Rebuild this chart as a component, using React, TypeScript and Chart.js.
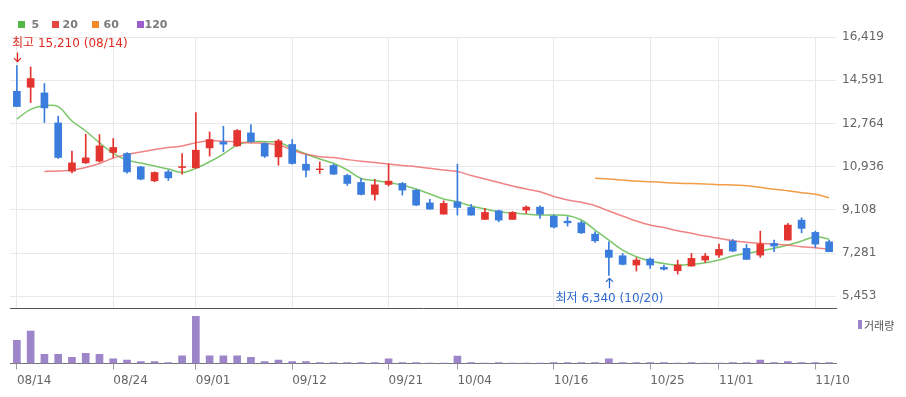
import React, { useEffect, useRef } from 'react';
import { Chart, registerables } from 'chart.js';

Chart.register(...registerables);

// ---------- data ----------
const DATES = [
  '08/14', '08/16', '08/17', '08/18', '08/21', '08/22', '08/23', '08/24', '08/25', '08/28',
  '08/29', '08/30', '08/31', '09/01', '09/04', '09/05', '09/06', '09/07', '09/08', '09/11',
  '09/12', '09/13', '09/14', '09/15', '09/18', '09/19', '09/20', '09/21', '09/22', '09/25',
  '09/26', '09/27', '10/04', '10/05', '10/06', '10/10', '10/11', '10/12', '10/13', '10/16',
  '10/17', '10/18', '10/19', '10/20', '10/23', '10/24', '10/25', '10/26', '10/27', '10/30',
  '10/31', '11/01', '11/02', '11/03', '11/06', '11/07', '11/08', '11/09', '11/10', '11/13',
];

const TICK_DATES = ['08/14', '08/24', '09/01', '09/12', '09/21', '10/04', '10/16', '10/25', '11/01', '11/10'];

const OPEN = [
  14125, 14294, 14054, 12786, 10746, 11097, 11169, 11536, 11494, 10928,
  10336, 10717, 10900, 10886, 11730, 11984, 11815, 12364, 11916, 11350,
  11874, 11042, 10810, 10987, 10564, 10269, 9762, 10184, 10226, 9943,
  9407, 8930, 9449, 9212, 8706, 9069, 8706, 9099, 9225, 8845,
  8633, 8562, 8085, 7409, 7168, 6776, 7029, 6680, 6535, 6733,
  6987, 7197, 7789, 7481, 7197, 7692, 7831, 8676, 8157, 7760,
];
const HIGH = [
  15210, 15152, 14450, 13069, 11591, 12309, 12296, 12127, 11536, 10950,
  10717, 10788, 11494, 13226, 12406, 12647, 12507, 12719, 11942, 12085,
  12085, 11422, 11139, 11042, 10620, 10438, 10395, 11042, 10269, 9960,
  9550, 9492, 11042, 9339, 9170, 9100, 9040, 9280, 9280, 8887,
  8816, 8633, 8182, 7760, 7269, 7084, 7084, 6780, 6987, 7269,
  7269, 7663, 7861, 7650, 8212, 7831, 8537, 8774, 8212, 7831,
];
const LOW = [
  13479, 13648, 12803, 11283, 10674, 11071, 11130, 11325, 10662, 10380,
  10294, 10353, 10620, 10860, 11380, 11562, 11790, 11970, 11325, 10999,
  11040, 10505, 10649, 10600, 10142, 9740, 9521, 10113, 9732, 9290,
  9141, 8930, 8887, 8887, 8706, 8604, 8706, 8959, 8748, 8340,
  8423, 8100, 7734, 6340, 6780, 6522, 6635, 6560, 6395, 6733,
  6890, 7101, 7340, 7016, 7101, 7339, 7831, 8140, 7523, 7339,
];
const CLOSE = [
  13479, 14662, 13420, 11325, 11097, 11308, 11815, 11747, 10717, 10408,
  10691, 10463, 10940, 11633, 12085, 11887, 12465, 12000, 11380, 12026,
  11071, 10788, 10840, 10620, 10226, 9762, 10167, 10324, 9943, 9310,
  9141, 9381, 9212, 8887, 9001, 8676, 9001, 9225, 8930, 8380,
  8560, 8140, 7802, 7101, 6804, 6987, 6776, 6600, 6776, 7058,
  7155, 7438, 7366, 7016, 7663, 7578, 8466, 8325, 7663, 7339,
];

const VOLUME = [
  2300000, 3200000, 900000, 900000, 600000, 1000000, 900000, 470000, 330000, 200000,
  200000, 100000, 770000, 4670000, 770000, 770000, 770000, 600000, 200000, 330000,
  200000, 200000, 100000, 100000, 100000, 100000, 100000, 470000, 100000, 100000,
  40000, 40000, 730000, 100000, 40000, 100000, 40000, 40000, 40000, 100000,
  100000, 100000, 100000, 470000, 100000, 100000, 100000, 100000, 40000, 100000,
  40000, 40000, 100000, 100000, 330000, 100000, 200000, 100000, 100000, 100000,
];

const MA5 = [
  12951, 13361, 13514, 13471, 12867, 12444, 11949, 11501, 11217, 11090,
  10964, 10837, 10689, 10866, 11145, 11471, 11852, 11991, 11991, 11966,
  11712, 11471, 11260, 11078, 10794, 10435, 10350, 10266, 10160, 9991,
  9779, 9568, 9454, 9272, 9145, 9031, 8976, 8934, 8891, 8891,
  8870, 8680, 8257, 7834, 7411, 7128, 6946, 6840, 6777, 6806,
  6874, 6988, 7157, 7272, 7369, 7483, 7623, 7792, 7974, 7876,
];
const MA20 = [
  null, null, 10731, 10752, 10794, 10900, 11069, 11302, 11450, 11556,
  11661, 11746, 11809, 11949, 12034, 12012, 11979, 11936, 11924, 11852,
  11640, 11458, 11357, 11323, 11238, 11162, 11112, 11048, 10985, 10934,
  10866, 10794, 10731, 10562, 10414, 10266, 10118, 9991, 9877, 9674,
  9526, 9428, 9285, 9061, 8849, 8638, 8468, 8363, 8227, 8117,
  8003, 7906, 7805, 7737, 7695, 7665, 7623, 7551, 7508, 7441,
];
const MA60 = [
  null, null, null, null, null, null, null, null, null, null,
  null, null, null, null, null, null, null, null, null, null,
  null, null, null, null, null, null, null, null, null, null,
  null, null, null, null, null, null, null, null, null, null,
  null, null, 10443, 10414, 10372, 10329, 10300, 10266, 10236, 10224,
  10202, 10173, 10160, 10130, 10063, 9978, 9919, 9834, 9767, 9623,
];

const Y_TICKS = [5453, 7281, 9108, 10936, 12764, 14591, 16419];
const Y_MIN = 4960;
const Y_MAX = 16419;
const VOL_MAX = 5300000;

const LEGEND = [
  { label: '5', color: '#52b848', box: 18, text: 31.5 },
  { label: '20', color: '#e8473f', box: 52, text: 62.5 },
  { label: '60', color: '#f28a28', box: 92, text: 103.5 },
  { label: '120', color: '#9a5fcc', box: 137, text: 144.5 },
];

// ---------- styles ----------
const UP = '#e3342f';
const DOWN = '#3b7ddd';
const GRID = '#e9e9e9';
const AXIS_TEXT = '#666666';
const VOL_COLOR = '#9c86c9';
const FONT = "'DejaVu Sans', 'Noto Sans CJK KR', sans-serif";
const TICK_SET = new Set(TICK_DATES);

const fmt = (v: number) => Math.round(v).toLocaleString('en-US');

const hiLoPlugin = {
  id: 'hiLo',
  afterDatasetsDraw(chart: any) {
    const { ctx, scales } = chart;
    const xs = scales.x;
    const ys = scales.y;
    let hi = 0;
    let lo = 0;
    HIGH.forEach((v, i) => { if (v > HIGH[hi]) hi = i; });
    LOW.forEach((v, i) => { if (v < LOW[lo]) lo = i; });
    ctx.save();
    ctx.font = `12px ${FONT}`;
    ctx.textBaseline = 'middle';
    ctx.textAlign = 'left';
    ctx.lineWidth = 1.3;

    // highest
    const hx = Math.round(xs.getPixelForValue(hi)) + 0.5;
    const hy = ys.getPixelForValue(HIGH[hi]);
    const ht = `최고 ${fmt(HIGH[hi])} (${DATES[hi]})`;
    const hw = ctx.measureText(ht).width;
    ctx.fillStyle = '#e0281f';
    ctx.strokeStyle = '#e0281f';
    ctx.fillText(ht, Math.max(12, hx - hw / 2), hy - 22);
    ctx.beginPath();
    ctx.moveTo(hx, hy - 13);
    ctx.lineTo(hx, hy - 4);
    ctx.moveTo(hx - 3.5, hy - 7.5);
    ctx.lineTo(hx, hy - 4);
    ctx.lineTo(hx + 3.5, hy - 7.5);
    ctx.stroke();

    // lowest
    const lx = Math.round(xs.getPixelForValue(lo)) + 0.5;
    const ly = ys.getPixelForValue(LOW[lo]);
    const lt = `최저 ${fmt(LOW[lo])} (${DATES[lo]})`;
    const lw = ctx.measureText(lt).width;
    ctx.fillStyle = '#2f6ad0';
    ctx.strokeStyle = '#2f6ad0';
    ctx.fillText(lt, lx - lw / 2, ly + 24);
    ctx.beginPath();
    ctx.moveTo(lx, ly + 13);
    ctx.lineTo(lx, ly + 3);
    ctx.moveTo(lx - 3.5, ly + 6.5);
    ctx.lineTo(lx, ly + 3);
    ctx.lineTo(lx + 3.5, ly + 6.5);
    ctx.stroke();
    ctx.restore();
  },
};

export default function App() {
  const priceRef = useRef<HTMLCanvasElement | null>(null);
  const volRef = useRef<HTMLCanvasElement | null>(null);

  useEffect(() => {
    const colors = DATES.map((_, i) => (CLOSE[i] >= OPEN[i] ? UP : DOWN));
    const lineDs = (label: string, data: (number | null)[], color: string) => ({
      type: 'line' as const,
      label,
      data,
      borderColor: color,
      borderWidth: 1.5,
      pointRadius: 0,
      tension: 0.35,
      spanGaps: false,
      order: 2,
    });

    const price = new Chart(priceRef.current as HTMLCanvasElement, {
      type: 'bar',
      data: {
        labels: DATES,
        datasets: [
          lineDs('60', MA60, 'rgba(242,145,50,0.9)') as any,
          lineDs('20', MA20, 'rgba(236,100,100,0.8)') as any,
          lineDs('5', MA5, 'rgba(110,192,90,0.9)') as any,
          {
            label: 'wick',
            data: DATES.map((_, i) => [LOW[i], HIGH[i]]),
            backgroundColor: colors,
            barThickness: 1,
            grouped: false,
            order: 1,
          },
          {
            label: 'body',
            data: DATES.map((_, i) => [OPEN[i], CLOSE[i]]),
            backgroundColor: colors,
            barThickness: 7,
            grouped: false,
            order: 1,
          },
        ],
      },
      options: {
        animation: false,
        responsive: false,
        maintainAspectRatio: false,
        layout: { padding: { left: 10, top: 37, right: 0, bottom: 2 } },
        plugins: { legend: { display: false }, tooltip: { enabled: false } },
        scales: {
          x: {
            offset: true,
            afterFit: (s: any) => { s.height = 0; },
            grid: {
              offset: false,
              drawTicks: false,
              color: (c: any) => (c.tick && TICK_SET.has(DATES[c.tick.value]) ? GRID : 'rgba(0,0,0,0)'),
            },
            ticks: { display: false },
            border: { display: true, color: '#555555', width: 1 },
          },
          y: {
            position: 'right',
            min: Y_MIN,
            max: Y_MAX,
            afterBuildTicks: (s: any) => { s.ticks = Y_TICKS.map((v) => ({ value: v })); },
            afterFit: (s: any) => {
              s.width = 70;
              s.paddingTop = 0;
              s.paddingBottom = 0;
            },
            grid: { color: GRID, drawTicks: false },
            border: { display: false },
            ticks: {
              padding: 6,
              color: AXIS_TEXT,
              font: { family: FONT, size: 12 },
              callback: (v: any) => fmt(Number(v)),
            },
          },
        },
      } as any,
      plugins: [hiLoPlugin],
    });

    const vol = new Chart(volRef.current as HTMLCanvasElement, {
      type: 'bar',
      data: {
        labels: DATES,
        datasets: [{ label: '거래량', data: VOLUME, backgroundColor: VOL_COLOR, barThickness: 7 }],
      },
      options: {
        animation: false,
        responsive: false,
        maintainAspectRatio: false,
        layout: { padding: { left: 10, top: 2, right: 0, bottom: 0 } },
        plugins: { legend: { display: false }, tooltip: { enabled: false } },
        scales: {
          x: {
            offset: true,
            afterFit: (s: any) => { s.height = 33.5; },
            grid: {
              offset: false,
              drawOnChartArea: false,
              tickLength: 6,
              color: (c: any) => (c.tick && TICK_SET.has(DATES[c.tick.value]) ? '#9a9a9a' : 'rgba(0,0,0,0)'),
            },
            border: { display: true, color: '#777777', width: 1 },
            ticks: {
              autoSkip: false,
              maxRotation: 0,
              minRotation: 0,
              align: 'start',
              padding: 4,
              color: AXIS_TEXT,
              font: { family: FONT, size: 12 },
              callback: (_v: any, i: number) => (TICK_SET.has(DATES[i]) ? DATES[i] : ''),
            },
          },
          y: {
            position: 'right',
            min: 0,
            max: VOL_MAX,
            afterFit: (s: any) => { s.width = 70; },
            grid: { display: false },
            border: { display: false },
            ticks: { display: false },
          },
        },
      } as any,
    });

    return () => {
      price.destroy();
      vol.destroy();
    };
  }, []);

  return (
    <div style={{ position: 'absolute', left: 0, top: 0, width: 906, height: 397, background: '#fff', overflow: 'hidden' }}>
      <canvas ref={priceRef} width={906} height={310} style={{ position: 'absolute', left: 0, top: 0, width: 906, height: 310 }} />
      <canvas ref={volRef} width={906} height={89} style={{ position: 'absolute', left: 0, top: 308, width: 906, height: 89 }} />
      {LEGEND.map((l) => (
        <React.Fragment key={l.label}>
          <span style={{ position: 'absolute', left: l.box, top: 21, width: 7, height: 7, background: l.color }} />
          <span
            style={{
              position: 'absolute',
              left: l.text,
              top: 17,
              lineHeight: '15px',
              fontFamily: FONT,
              fontWeight: 'bold',
              fontSize: 11,
              color: '#7a7a7a',
            }}
          >
            {l.label}
          </span>
        </React.Fragment>
      ))}
      <span style={{ position: 'absolute', left: 858, top: 320, width: 4, height: 9, background: VOL_COLOR }} />
      <span
        style={{
          position: 'absolute',
          left: 864,
          top: 317,
          lineHeight: '16px',
          fontFamily: "'Noto Sans CJK KR', sans-serif",
          fontSize: 11,
          color: '#555555',
        }}
      >
        거래량
      </span>
    </div>
  );
}
